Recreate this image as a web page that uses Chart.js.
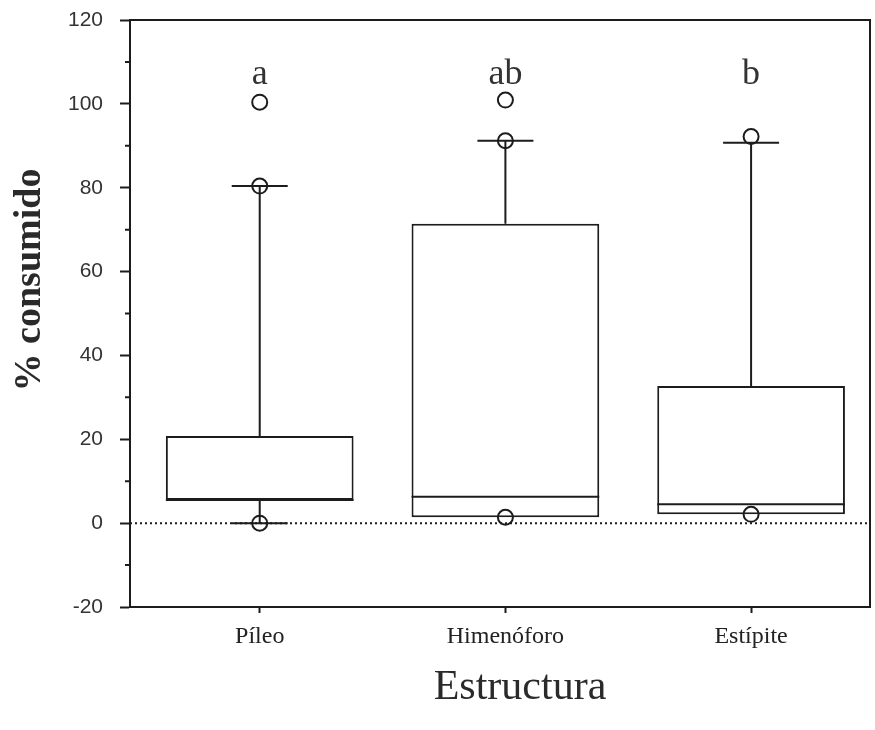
<!DOCTYPE html>
<html>
<head>
<meta charset="utf-8">
<script src="https://cdn.jsdelivr.net/npm/chart.js@4"></script>
<style>
  body { margin: 0; background: #fff; }
  #wrap { width: 875px; height: 730px; }
</style>
</head>
<body>
<div id="wrap"><canvas id="chart"></canvas></div>
<script>
const categories = ['Píleo', 'Himenóforo', 'Estípite'];
const q1 = [5.5, 1.4, 2.1];
const median = [5.5, 6.3, 4.5];
const q3 = [20.8, 71.4, 32.7];
const whiskerLow = [0, 1.4, 2.1];
const whiskerHigh = [80.4, 91.2, 90.7];
const outliers = [[100.4, 80.4, 0], [100.9, 91.2, 1.4], [92.2, 2.1]];
const letters = ['a', 'ab', 'b'];
const minorTicks = [-10, 10, 30, 50, 70, 90, 110];

const INK = '#1c1c1c';

const boxData = categories.map((c, i) => ({ x: i + 1, y: [q1[i], q3[i]] }));
const pointData = [];
outliers.forEach((list, i) => list.forEach(v => pointData.push({ x: i + 1, y: v })));

const boxExtras = {
    id: 'boxExtras',
    beforeDatasetsDraw(chart) {
        const ctx = chart.ctx, area = chart.chartArea, y = chart.scales.y;
        // dotted zero line
        ctx.save();
        ctx.strokeStyle = INK;
        ctx.lineWidth = 2;
        ctx.setLineDash([2, 3]);
        ctx.beginPath();
        ctx.moveTo(area.left, y.getPixelForValue(0));
        ctx.lineTo(area.right, y.getPixelForValue(0));
        ctx.stroke();
        ctx.setLineDash([]);
        // whiskers
        const bars = chart.getDatasetMeta(0).data;
        bars.forEach((bar, i) => {
            const cx = bar.x, cap = 28;
            ctx.beginPath();
            ctx.moveTo(cx, y.getPixelForValue(q3[i]));
            ctx.lineTo(cx, y.getPixelForValue(whiskerHigh[i]));
            ctx.moveTo(cx - cap, y.getPixelForValue(whiskerHigh[i]));
            ctx.lineTo(cx + cap, y.getPixelForValue(whiskerHigh[i]));
            if (whiskerLow[i] < q1[i]) {
                ctx.moveTo(cx, y.getPixelForValue(q1[i]));
                ctx.lineTo(cx, y.getPixelForValue(whiskerLow[i]));
                ctx.moveTo(cx - cap, y.getPixelForValue(whiskerLow[i]));
                ctx.lineTo(cx + cap, y.getPixelForValue(whiskerLow[i]));
            }
            ctx.stroke();
        });
        ctx.restore();
    },
    afterDatasetsDraw(chart) {
        const ctx = chart.ctx, y = chart.scales.y;
        const bars = chart.getDatasetMeta(0).data;
        ctx.save();
        ctx.strokeStyle = INK;
        ctx.lineWidth = 2;
        bars.forEach((bar, i) => {
            const py = y.getPixelForValue(median[i]);
            ctx.beginPath();
            ctx.moveTo(bar.x - bar.width / 2, py);
            ctx.lineTo(bar.x + bar.width / 2, py);
            ctx.stroke();
            // significance letters
            ctx.fillStyle = '#333';
            ctx.font = '36px "Liberation Serif"';
            ctx.textAlign = 'center';
            ctx.textBaseline = 'middle';
            ctx.fillText(letters[i], bar.x, y.getPixelForValue(107));
        });
        ctx.restore();
    },
    afterDraw(chart) {
        const ctx = chart.ctx, area = chart.chartArea, y = chart.scales.y;
        ctx.save();
        ctx.strokeStyle = INK;
        ctx.lineWidth = 2;
        ctx.strokeRect(area.left, area.top, area.right - area.left, area.bottom - area.top);
        ctx.beginPath();
        minorTicks.forEach(v => {
            ctx.moveTo(area.left - 5, y.getPixelForValue(v));
            ctx.lineTo(area.left, y.getPixelForValue(v));
        });
        ctx.stroke();
        // axis titles
        ctx.fillStyle = '#2a2a2a';
        ctx.textAlign = 'center';
        ctx.textBaseline = 'middle';
        ctx.font = '42px "Liberation Serif"';
        ctx.fillText('Estructura', 520, 688);
        ctx.translate(30, 280);
        ctx.rotate(-Math.PI / 2);
        ctx.font = 'bold 38px "Liberation Serif"';
        ctx.fillText('% consumido', 0, 0);
        ctx.restore();
    }
};

new Chart(document.getElementById('chart'), {
    type: 'bar',
    data: {
        datasets: [
            {
                type: 'bar',
                order: 2,
                data: boxData,
                backgroundColor: '#ffffff',
                borderColor: INK,
                borderWidth: 2,
                borderSkipped: false,
                barPercentage: 0.764,
                categoryPercentage: 1
            },
            {
                type: 'scatter',
                order: 1,
                data: pointData,
                pointStyle: 'circle',
                pointRadius: 7.5,
                backgroundColor: 'rgba(0,0,0,0)',
                borderColor: INK,
                borderWidth: 2
            }
        ]
    },
    options: {
        responsive: true,
        maintainAspectRatio: false,
        animation: false,
        layout: { autoPadding: false, padding: { top: 20, right: 5, left: 0, bottom: 0 } },
        plugins: { legend: { display: false }, tooltip: { enabled: false } },
        scales: {
            x: {
                type: 'linear',
                min: 0.472,
                max: 3.484,
                offset: false,
                afterBuildTicks: axis => { axis.ticks = categories.map((c, i) => ({ value: i + 1 })); },
                afterFit: axis => { axis.height = 123; axis.paddingLeft = 0; axis.paddingRight = 0; },
                ticks: {
                    callback: v => categories[v - 1],
                    font: { family: 'Liberation Serif', size: 24 },
                    color: '#222',
                    padding: 9,
                    maxRotation: 0
                },
                grid: { offset: false, drawOnChartArea: false, tickLength: 6, tickColor: INK, tickWidth: 2 },
                border: { color: INK, width: 2 }
            },
            y: {
                min: -20,
                max: 120,
                afterFit: axis => { axis.width = 130; axis.paddingTop = 0; axis.paddingBottom = 0; },
                ticks: {
                    stepSize: 20,
                    font: { family: 'Liberation Sans', size: 21 },
                    color: '#333',
                    padding: 17
                },
                grid: { drawOnChartArea: false, tickLength: 10, tickColor: INK, tickWidth: 2 },
                border: { color: INK, width: 2 }
            }
        }
    },
    plugins: [boxExtras]
});
</script>
</body>
</html>
